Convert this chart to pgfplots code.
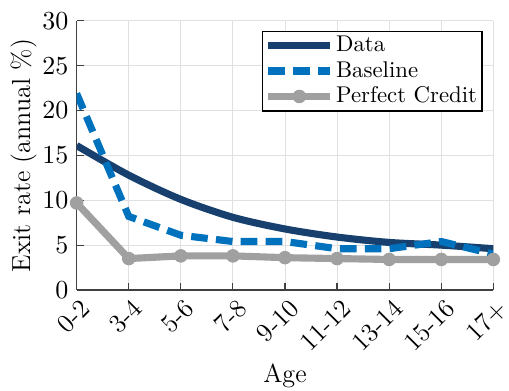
\documentclass[border=0pt]{standalone}
\usepackage{pgfplots}
\pgfplotsset{compat=1.18}
\definecolor{datablue}{RGB}{24,64,110}
\definecolor{baseblue}{RGB}{0,114,189}
\definecolor{pcgray}{RGB}{160,160,160}
\pgfplotsset{
  long legend/.style={legend image code/.code={%
    \draw[mark repeat=2, mark phase=2, ##1] plot coordinates {(0pt,0pt) (13pt,0pt) (26pt,0pt)};}},
}
\begin{document}
\begin{tikzpicture}
\begin{axis}[
  name=ax,
  width=175.6pt, height=113.4pt, scale only axis,
  xmin=0, xmax=8, ymin=0, ymax=30,
  xtick={0,...,8},
  xticklabels={0-2,3-4,5-6,7-8,9-10,11-12,13-14,15-16,17+},
  tick label style={font=\fontsize{11}{13}\selectfont},
  label style={font=\fontsize{11}{13}\selectfont},
  x tick label style={xshift=1.2pt, yshift=-3pt, rotate=45, anchor=north east, inner sep=0pt},
  ytick={0,5,...,30},
  axis x line*=bottom, axis y line*=left,
  axis line style={draw=black!75, line width=0.6pt, -},
  tick style={draw=black!75, line width=0.5pt},
  tick align=inside, major tick length=3pt,
  grid=major, major grid style={draw=black!12, line width=0.4pt},
  xlabel={Age}, ylabel={Exit rate (annual \%)},
  xlabel style={yshift=-1pt}, ylabel style={yshift=-4.5pt},
  legend style={at={(0.974,0.963)}, anchor=north east, draw=black, line width=0.6pt,
    font=\fontsize{9.6}{11}\selectfont, inner sep=1pt, row sep=0.5pt,
    nodes={inner sep=1pt}, cells={anchor=west}},
]
\addplot[datablue, line width=3pt, smooth, long legend] coordinates {
  (0,16.1) (1,12.8) (2,10.1) (3,8.1) (4,6.8) (5,5.9) (6,5.3) (7,5.0) (8,4.6)};
\addlegendentry{Data}
\addplot[baseblue, line width=3pt, dash pattern=on 7pt off 3.5pt, long legend] coordinates {
  (0,21.9) (1,8.2) (2,6.1) (3,5.4) (4,5.4) (5,4.6) (6,4.6) (7,5.4) (8,4.0)};
\addlegendentry{Baseline}
\addplot[pcgray, line width=3pt, mark=*, mark size=2.6pt, long legend,
  mark options={solid, fill=pcgray, draw=pcgray, line width=0.5pt}] coordinates {
  (0,9.7) (1,3.5) (2,3.8) (3,3.8) (4,3.6) (5,3.5) (6,3.4) (7,3.4) (8,3.4)};
\addlegendentry{Perfect Credit}
\end{axis}
\pgfresetboundingbox
\path ([xshift=-32.3pt, yshift=-42.4pt]ax.south west) rectangle ([xshift=6.6pt, yshift=8.8pt]ax.north east);
\end{tikzpicture}
\end{document}
